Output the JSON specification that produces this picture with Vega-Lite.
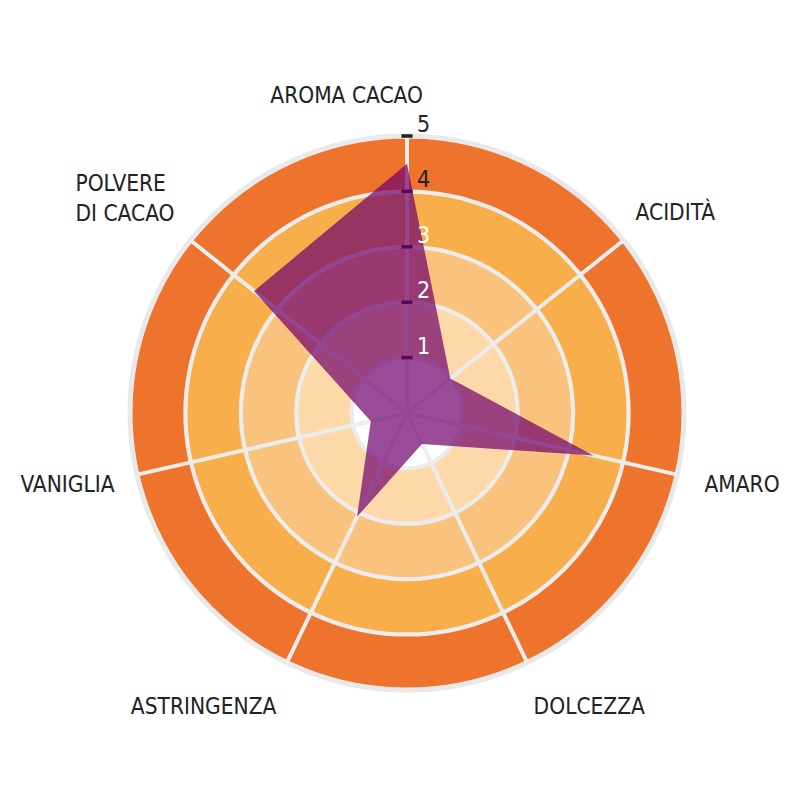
{
  "$schema": "https://vega.github.io/schema/vega-lite/v6.json",
  "width": 786,
  "height": 776,
  "autosize": {"type": "none"},
  "padding": {"left": 14, "top": 25, "right": 0, "bottom": 0},
  "background": "white",
  "config": {
    "view": {"stroke": null},
    "font": "Liberation Sans Narrow, DejaVu Sans Condensed, sans-serif",
    "text": {"font": "Liberation Sans Narrow, DejaVu Sans Condensed, sans-serif"}
  },
  "datasets": {
    "fasce": [
      {"fascia": "0-1", "da": 0, "a": 1},
      {"fascia": "1-2", "da": 1, "a": 2},
      {"fascia": "2-3", "da": 2, "a": 3},
      {"fascia": "3-4", "da": 3, "a": 4},
      {"fascia": "4-5", "da": 4, "a": 5}
    ],
    "profilo": [
      {"i": 0, "attributo": "AROMA CACAO", "valore": 4.5},
      {"i": 1, "attributo": "ACIDITÀ", "valore": 1.0},
      {"i": 2, "attributo": "AMARO", "valore": 3.45},
      {"i": 3, "attributo": "DOLCEZZA", "valore": 0.62},
      {"i": 4, "attributo": "ASTRINGENZA", "valore": 2.08},
      {"i": 5, "attributo": "VANIGLIA", "valore": 0.67},
      {"i": 6, "attributo": "POLVERE DI CACAO", "valore": 3.53}
    ],
    "scala": [{"v": 1}, {"v": 2}, {"v": 3}, {"v": 4}, {"v": 5}]
  },
  "layer": [
    {
      "data": {"name": "fasce"},
      "mark": {"type": "arc", "theta": 0, "theta2": 6.2832, "stroke": "#ececec", "strokeWidth": 4},
      "encoding": {
        "radius": {"field": "a", "type": "quantitative", "scale": {"type": "linear", "domain": [0, 5], "range": [0, 277], "zero": true}},
        "radius2": {"field": "da"},
        "color": {
          "field": "fascia",
          "type": "nominal",
          "legend": null,
          "scale": {
            "domain": ["0-1", "1-2", "2-3", "3-4", "4-5"],
            "range": ["#ffffff", "#fdd9a9", "#f9c27d", "#f7ae4b", "#ee732c"]
          }
        }
      }
    },
    {
      "data": {"name": "fasce"},
      "transform": [{"filter": "datum.a == 5"}],
      "mark": {"type": "arc", "theta": 0, "theta2": 6.2832, "fillOpacity": 0, "stroke": "#e9e9e9", "strokeWidth": 5},
      "encoding": {
        "radius": {"field": "a", "type": "quantitative"},
        "radius2": {"field": "a"}
      }
    },
    {
      "data": {"name": "profilo"},
      "mark": {"type": "arc", "fillOpacity": 0, "stroke": "#ececec", "strokeWidth": 4},
      "encoding": {
        "theta": {"field": "i", "type": "quantitative", "stack": null, "scale": {"domain": [0, 7], "range": [0, 6.2832]}},
        "theta2": {"field": "i"},
        "radius": {"datum": 5, "type": "quantitative"}
      }
    },
    {
      "data": {"name": "scala"},
      "mark": {"type": "rule", "color": "#231f20", "strokeWidth": 3.5},
      "encoding": {
        "x": {"datum": -0.1, "type": "quantitative", "scale": {"domain": [-5, 5], "range": [116, 670]}, "axis": null},
        "x2": {"datum": 0.1},
        "y": {"field": "v", "type": "quantitative", "scale": {"domain": [-5, 5], "range": [665, 111]}, "axis": null}
      }
    },
    {
      "data": {"name": "profilo"},
      "transform": [
        {"calculate": "datum.valore * sin(2 * PI * datum.i / 7)", "as": "px"},
        {"calculate": "datum.valore * cos(2 * PI * datum.i / 7)", "as": "py"}
      ],
      "mark": {"type": "line", "interpolate": "linear-closed", "fill": "#6f006c", "fillOpacity": 0.7, "strokeOpacity": 0, "strokeWidth": 0},
      "encoding": {
        "x": {"field": "px", "type": "quantitative", "scale": {"domain": [-5, 5], "range": [116, 670]}, "axis": null},
        "y": {"field": "py", "type": "quantitative", "scale": {"domain": [-5, 5], "range": [665, 111]}, "axis": null},
        "order": {"field": "i"}
      }
    },
    {
      "data": {"name": "scala"},
      "mark": {"type": "text", "align": "left", "baseline": "alphabetic", "dx": 10, "dy": -4, "fontSize": 23},
      "encoding": {
        "x": {"datum": 0, "type": "quantitative", "axis": null},
        "y": {"field": "v", "type": "quantitative", "axis": null},
        "text": {"field": "v"},
        "color": {"condition": {"test": "datum.v >= 4", "value": "#222222"}, "value": "#ffffff"}
      }
    },
    {
      "data": {"name": "profilo"},
      "transform": [{"filter": "datum.i == 0"}],
      "mark": {"type": "text", "align": "right", "baseline": "alphabetic", "dx": 16, "dy": 0, "fontSize": 22.5, "color": "#222222"},
      "encoding": {
        "theta": {"field": "i", "type": "quantitative", "stack": null},
        "radius": {"datum": 5.6, "type": "quantitative"},
        "text": {"field": "attributo"}
      }
    },
    {
      "data": {"name": "profilo"},
      "transform": [{"filter": "datum.i == 1"}],
      "mark": {"type": "text", "align": "left", "baseline": "alphabetic", "dx": -14, "dy": 0, "fontSize": 22.5, "color": "#222222"},
      "encoding": {
        "theta": {"field": "i", "type": "quantitative", "stack": null},
        "radius": {"datum": 5.6, "type": "quantitative"},
        "text": {"field": "attributo"}
      }
    },
    {
      "data": {"name": "profilo"},
      "transform": [{"filter": "datum.i == 2"}],
      "mark": {"type": "text", "align": "left", "baseline": "alphabetic", "dx": -5, "dy": 10, "fontSize": 22.5, "color": "#222222"},
      "encoding": {
        "theta": {"field": "i", "type": "quantitative", "stack": null},
        "radius": {"datum": 5.6, "type": "quantitative"},
        "text": {"field": "attributo"}
      }
    },
    {
      "data": {"name": "profilo"},
      "transform": [{"filter": "datum.i == 3"}],
      "mark": {"type": "text", "align": "left", "baseline": "alphabetic", "dx": -8, "dy": 21, "fontSize": 22.5, "color": "#222222"},
      "encoding": {
        "theta": {"field": "i", "type": "quantitative", "stack": null},
        "radius": {"datum": 5.6, "type": "quantitative"},
        "text": {"field": "attributo"}
      }
    },
    {
      "data": {"name": "profilo"},
      "transform": [{"filter": "datum.i == 4"}],
      "mark": {"type": "text", "align": "right", "baseline": "alphabetic", "dx": 4, "dy": 21, "fontSize": 22.5, "color": "#222222"},
      "encoding": {
        "theta": {"field": "i", "type": "quantitative", "stack": null},
        "radius": {"datum": 5.6, "type": "quantitative"},
        "text": {"field": "attributo"}
      }
    },
    {
      "data": {"name": "profilo"},
      "transform": [{"filter": "datum.i == 5"}],
      "mark": {"type": "text", "align": "right", "baseline": "alphabetic", "dx": 10, "dy": 10, "fontSize": 22.5, "color": "#222222"},
      "encoding": {
        "theta": {"field": "i", "type": "quantitative", "stack": null},
        "radius": {"datum": 5.6, "type": "quantitative"},
        "text": {"field": "attributo"}
      }
    },
    {
      "data": {"name": "profilo"},
      "transform": [{"filter": "datum.i == 6"}],
      "mark": {"type": "text", "align": "left", "baseline": "alphabetic", "dx": -89, "dy": -29, "fontSize": 22.5, "lineHeight": 30, "color": "#222222"},
      "encoding": {
        "theta": {"field": "i", "type": "quantitative", "stack": null},
        "radius": {"datum": 5.6, "type": "quantitative"},
        "text": {"value": ["POLVERE", "DI CACAO"]}
      }
    }
  ]
}
